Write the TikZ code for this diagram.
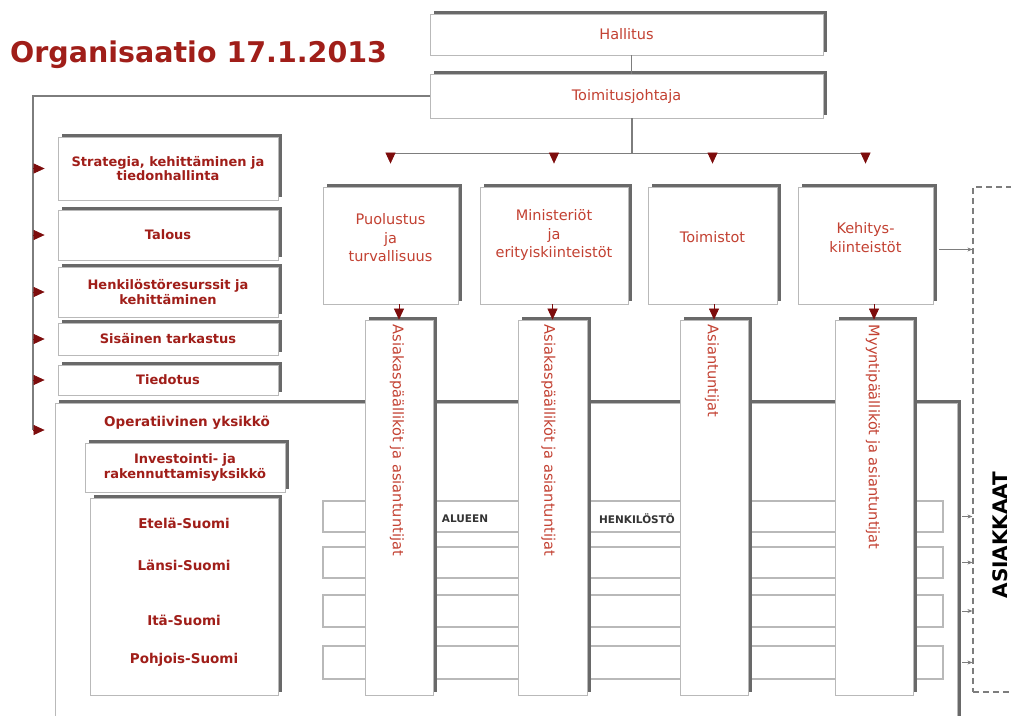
\documentclass[tikz,border=0pt]{standalone}
\usepackage{fontspec}
\setmainfont{DejaVu Sans}
\usetikzlibrary{arrows.meta,positioning,calc,shadows}
\definecolor{orgred}{RGB}{160,30,25}
\definecolor{boxred}{RGB}{195,65,50}
\definecolor{tipred}{RGB}{125,12,12}
\definecolor{shadowgray}{RGB}{105,105,105}
\definecolor{edgegray}{RGB}{185,185,185}
\definecolor{linegray}{RGB}{125,125,125}

\begin{document}
\begin{tikzpicture}[x=1pt,y=-1pt,>=Latex,
  box/.style={draw=edgegray,fill=white,inner sep=0pt,line width=0.8pt,
    general shadow={fill=shadowgray,shadow xshift=3.5pt,shadow yshift=3.5pt}},
  leftbox/.style={box,minimum width=220pt,align=center,text=orgred,
    font=\fontsize{13}{14.5}\selectfont\bfseries},
  regtxt/.style={text=orgred,font=\fontsize{13.5}{15}\selectfont\bfseries,inner sep=0pt},
  topbox/.style={box,minimum height=117pt},
  toptxt/.style={align=center,text=boxred,font=\fontsize{14.5}{18.5}\selectfont,inner sep=0pt},
  column/.style={box,minimum height=375pt},
  coltxt/.style={rotate=-90,anchor=west,text=boxred,font=\fontsize{14.6}{16}\selectfont,inner sep=0pt},
  rowbox/.style={draw=edgegray,fill=white,line width=1.2pt,minimum width=620pt,inner sep=0pt},
  rowtxt/.style={text=black!80,font=\fontsize{10.5}{12}\selectfont\bfseries,inner sep=0pt},
  link/.style={draw=linegray,line width=1.8pt},
  tip/.style={draw=tipred,line width=0.6pt,-{Triangle[width=10pt,length=11pt]}},
  thinarr/.style={draw=linegray,line width=0.8pt,-{Stealth[length=5pt,width=4pt]}}
]
\useasboundingbox (0,0) rectangle (1011,715);

% title
\node[anchor=base west,text=orgred,font=\fontsize{28.5}{30}\selectfont\bfseries,inner sep=0pt]
  (title) at (10,62) {Organisaatio 17.1.2013};

% top of the organisation
\node[box,minimum width=393pt,minimum height=41pt,text=boxred,font=\fontsize{14.5}{17}\selectfont]
  (hal) at (626.5,34.5) {Hallitus};
\node[box,minimum width=393pt,minimum height=44pt,text=boxred,font=\fontsize{14.5}{17}\selectfont]
  (tj) at (626.5,96) {Toimitusjohtaja};

% business areas
\node[topbox,minimum width=135pt] (puo) at (390.5,245.5) {};
\node[topbox,minimum width=148pt] (min) at (554,245.5) {};
\node[topbox,minimum width=129pt] (toi) at (712.5,245.5) {};
\node[topbox,minimum width=135pt] (keh) at (865.5,245.5) {};
\node[toptxt,below=27pt of puo.north] (puot) {Puolustus\\ja\\turvallisuus};
\node[toptxt,below=23pt of min.north] (mint) {Ministeriöt\\ja\\erityiskiinteistöt};
\node[toptxt,below=45pt of toi.north] (toit) {Toimistot};
\node[toptxt,below=36pt of keh.north] (keht) {Kehitys-\\kiinteistöt};

% operative unit
\node[box,minimum width=902pt,minimum height=337pt] (op) at (506,571.5) {};
\node[regtxt] (opt) at (187,423) {Operatiivinen yksikkö};

% regional rows
\node[rowbox,minimum height=31pt] (r1) at (633,516.5) {};
\node[rowbox,minimum height=31pt] (r2) at (633,562.5) {};
\node[rowbox,minimum height=32pt] (r3) at (633,611) {};
\node[rowbox,minimum height=33pt] (r4) at (633,662.5) {};
\node[rowtxt] (alu) at (465,519) {ALUEEN};
\node[rowtxt] (hlo) at (637,519) {HENKILÖSTÖ};

% columns
\node[column,minimum width=68pt] (col1) at (399,507.5) {};
\node[column,minimum width=69pt] (col2) at (552.5,507.5) {};
\node[column,minimum width=68pt] (col3) at (714,507.5) {};
\node[column,minimum width=78pt] (col4) at (874,507.5) {};
\node[coltxt] (c1t) at ([xshift=-2pt,yshift=-5pt]col1.north) {Asiakaspäälliköt ja asiantuntijat};
\node[coltxt] (c2t) at ([xshift=-4pt,yshift=-5pt]col2.north) {Asiakaspäälliköt ja asiantuntijat};
\node[coltxt] (c3t) at ([xshift=-2pt,yshift=-5pt]col3.north) {Asiantuntijat};
\node[coltxt] (c4t) at ([xshift=-1pt,yshift=-5pt]col4.north) {Myyntipäälliköt ja asiantuntijat};

% units inside the operative unit
\node[leftbox,minimum width=200pt,minimum height=49pt] (inv) at (185,467.5)
  {Investointi- ja\\rakennuttamisyksikkö};
\node[box,minimum width=188pt,minimum height=197pt] (reg) at (184,596.5) {};
\node[regtxt] (ete) at (184,523) {Etelä-Suomi};
\node[regtxt] (lan) at (184,565) {Länsi-Suomi};
\node[regtxt] (ita) at (184,620) {Itä-Suomi};
\node[regtxt] (poh) at (184,660) {Pohjois-Suomi};

% staff units
\node[leftbox,minimum height=63pt] (str) at (168,168.5) {Strategia, kehittäminen ja\\tiedonhallinta};
\node[leftbox,minimum height=50pt] (tal) at (168,235) {Talous};
\node[leftbox,minimum height=50pt] (hen) at (168,292) {Henkilöstöresurssit ja\\kehittäminen};
\node[leftbox,minimum height=32pt] (sis) at (168,339) {Sisäinen tarkastus};
\node[leftbox,minimum height=30pt] (tie) at (168,380) {Tiedotus};

% customers
\node[draw=linegray,line width=1.2pt,dash pattern=on 6pt off 4pt,minimum width=67pt,
  minimum height=505pt] (asi) at (1006.5,439.5) {};
\node[rotate=90,text=black,font=\fontsize{20}{22}\selectfont\bfseries,inner sep=0pt]
  (asit) at (1000,535) {ASIAKKAAT};

% connectors
\coordinate (bar) at ($(tj.south)+(5.5,35)$);
\coordinate (corner) at (33,430);
\draw[link] ([xshift=5pt]hal.south) -- ([xshift=5pt]tj.north);
\draw[link] ([xshift=5.5pt]tj.south) -- (bar);
\draw[link] (bar -| puo.north) -- (bar -| keh.north);
\foreach \b in {puo,min,toi,keh}
  \draw[tip] (bar -| \b.north) -- ([yshift=23pt]\b.north);
\draw[tip] (col1.north |- puo.south) -- (col1.north);
\draw[tip] (col2.north |- min.south) -- (col2.north);
\draw[tip] (col3.north |- toi.south) -- (col3.north);
\draw[tip] (col4.north |- keh.south) -- (col4.north);

\draw[link] (tj.west) -| (corner);
\foreach \b in {str,tal,hen,sis,tie}
  \draw[tip] (\b.west -| corner) -- ([xshift=-13pt]\b.west);
\draw[tip] (corner) -- ([xshift=-10pt]corner -| op.west);

\draw[thinarr] ([xshift=6pt,yshift=-4pt]keh.east) -- ([yshift=-4pt]keh.east -| asi.west);
\foreach \r in {r1,r2,r3,r4}
  \draw[thinarr] ([xshift=5pt]\r.east -| op.east) -- (\r.east -| asi.west);
\end{tikzpicture}
\end{document}
